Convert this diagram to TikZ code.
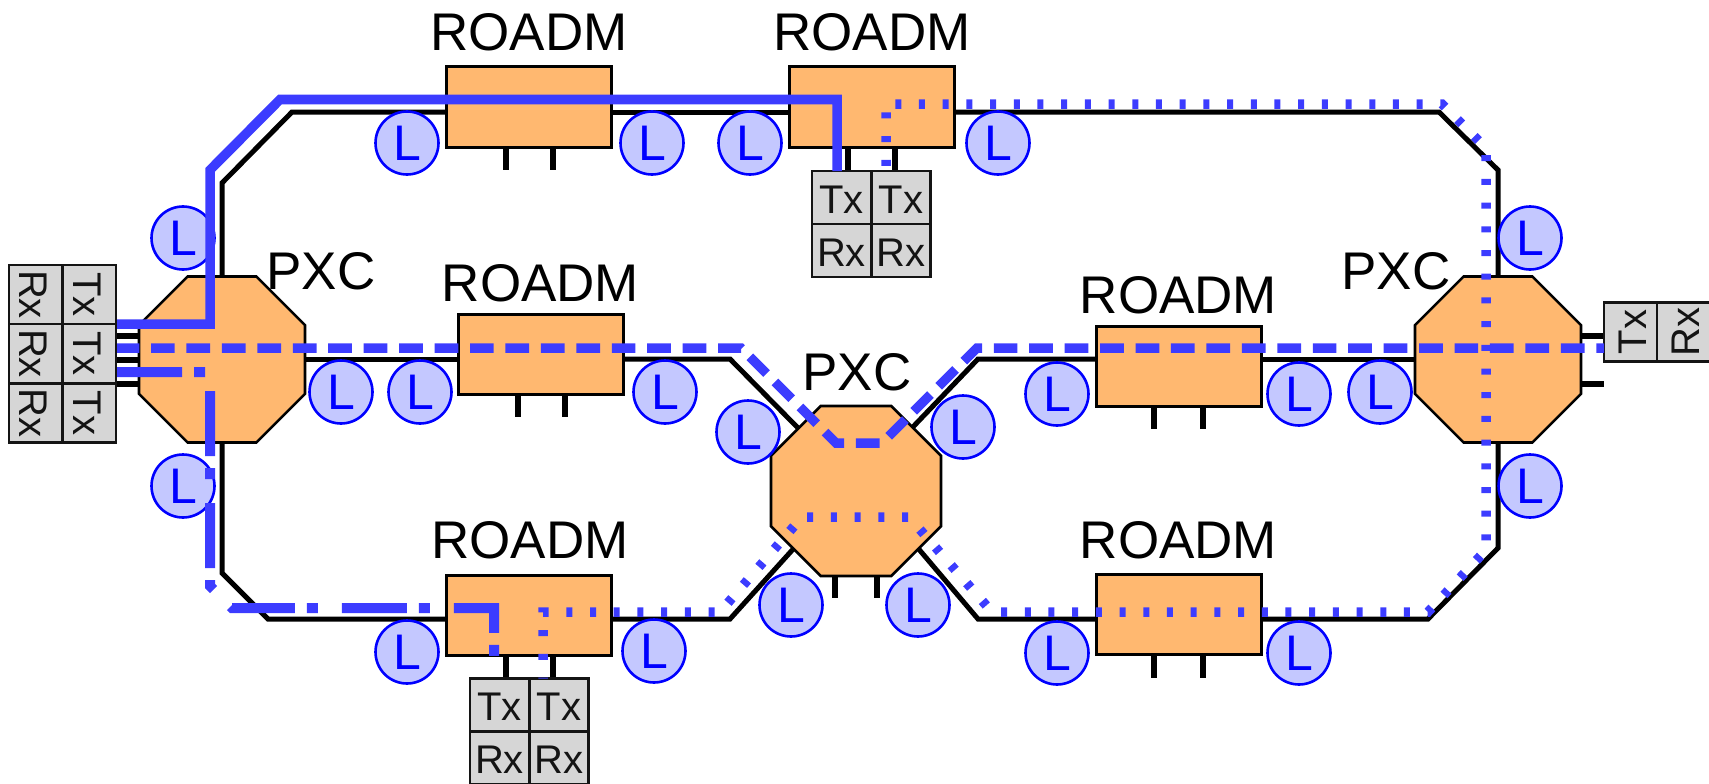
\documentclass[tikz,border=0pt]{standalone}
\usepackage{fontspec}
\setmainfont{Liberation Sans}
\usetikzlibrary{shapes.geometric,backgrounds}
\definecolor{orangefill}{HTML}{FFB870}
\definecolor{bluepath}{HTML}{3C3CFF}
\definecolor{lampfill}{HTML}{C4C8FF}
\definecolor{cellfill}{HTML}{D6D6D6}
\definecolor{cellline}{HTML}{141414}
\newcommand{\celltext}[1]{\raisebox{-2pt}[\height][0pt]{#1}}
\tikzset{
  roadm/.style={draw=black,line width=3pt,fill=orangefill,minimum width=165pt,minimum height=80pt,inner sep=0pt,outer sep=0pt},
  pxc/.style={draw=black,line width=2.6pt,fill=orangefill,regular polygon,regular polygon sides=8,minimum size=179.7pt,inner sep=0pt,outer sep=0pt},
  fiber/.style={draw=black,line width=5pt,line join=miter},
  stubline/.style={draw=black,line width=5.5pt},
  lamp/.style={circle,draw=blue,line width=2.6pt,fill=lampfill,minimum size=63pt,inner sep=0pt,text=blue,font=\fontsize{50}{50}\selectfont},
  cell/.style={draw=cellline,line width=2.8pt,fill=cellfill,inner sep=0pt,outer sep=0pt,text=cellline,font=\fontsize{40}{40}\selectfont},
  hcell/.style={cell,minimum width=59pt,minimum height=53pt},
  tall/.style={hcell,rotate=-90},
  tallr/.style={hcell,rotate=90},
  cellup/.style={cell,minimum width=59pt,minimum height=53pt},
  title/.style={anchor=base,text=black,font=\fontsize{53}{53}\selectfont,inner sep=0pt},
  bsolid/.style={draw=bluepath,line width=9.5pt,line join=miter},
  bdash/.style={draw=bluepath,line width=9.5pt,line join=miter,dash pattern=on 23.7pt off 11.74pt,dash phase=1.4pt},
  bdashdot/.style={draw=bluepath,line width=10pt,line join=miter,dash pattern=on 65pt off 12pt on 11pt off 24pt},
  bdot/.style={draw=bluepath,line width=9.5pt,line join=miter,dash pattern=on 6pt off 17.7pt,dash phase=5pt},
}
\begin{document}
\begin{tikzpicture}[x=1pt,y=-1pt]
\useasboundingbox (0,0) rectangle (1709,784);

% network elements
\node[pxc] (pxcL) at (222,359.5) {};
\node[pxc] (pxcR) at (1498,359.5) {};
\node[pxc,minimum size=184pt] (pxcM) at (856,491) {};
\node[roadm] (rdTL) at (529,107) {};
\node[roadm] (rdTR) at (872,107) {};
\node[roadm] (rdML) at (540.5,354) {};
\node[roadm] (rdMR) at (1178.5,366) {};
\node[roadm] (rdBL) at (529,615) {};
\node[roadm] (rdBR) at (1178.5,614) {};

% transceiver cells
\node[tall] (lR1) at (35.5,294.5) {\celltext{Rx}};
\node[tall] (lT1) at (89.5,294.5) {\celltext{Tx}};
\node[tall] (lR2) at (35.5,353.5) {\celltext{Rx}};
\node[tall] (lT2) at (89.5,353.5) {\celltext{Tx}};
\node[tall] (lR3) at (35.5,413) {\celltext{Rx}};
\node[tall] (lT3) at (89.5,413) {\celltext{Tx}};
\node[tallr] (rT) at (1630.5,332) {\celltext{Tx}};
\node[tallr] (rR) at (1683.5,332) {\celltext{Rx}};
\node[cellup] (tT1) at (841.5,197.5) {\celltext{Tx}};
\node[cellup] (tT2) at (901,197.5) {\celltext{Tx}};
\node[cellup] (tR1) at (841.5,250.5) {\celltext{Rx}};
\node[cellup] (tR2) at (901,250.5) {\celltext{Rx}};
\node[cellup] (bT1) at (499.5,705) {\celltext{Tx}};
\node[cellup] (bT2) at (559,705) {\celltext{Tx}};
\node[cellup] (bR1) at (499.5,758) {\celltext{Rx}};
\node[cellup] (bR2) at (559,758) {\celltext{Rx}};

% corners of the fibre runs
\coordinate (a1) at (222,183);
\coordinate (a2) at (292,112);
\coordinate (a3) at (1439,112);
\coordinate (a4) at (1498,170);
\coordinate (m1) at (730,359);
\coordinate (m2) at (800,430);
\coordinate (m3) at (910,430);
\coordinate (m4) at (978,359);
\coordinate (b1) at (222,573);
\coordinate (b2) at (268,619);
\coordinate (b3) at (730,619);
\coordinate (b4) at (795,547);
\coordinate (b5) at (917,547);
\coordinate (b6) at (978,619);
\coordinate (b7) at (1428,619);
\coordinate (b8) at (1498,548);

\begin{scope}[on background layer]
\draw[fiber] (pxcL.north) -- (a1) -- (a2) -- (a2 -| rdTL.west);
\draw[fiber] (a2 -| rdTL.east) -- (a2 -| rdTR.west);
\draw[fiber] (a2 -| rdTR.east) -- (a3) -- (a4) -- (pxcR.north);
\draw[fiber] (pxcL.east |- m1) -- (m1 -| rdML.west);
\draw[fiber] (m1 -| rdML.east) -- (m1) -- (m2);
\draw[fiber] (m3) -- (m4) -- (m4 -| rdMR.west);
\draw[fiber] (m4 -| rdMR.east) -- (m4 -| pxcR.west);
\draw[fiber] (pxcL.south) -- (b1) -- (b2) -- (b2 -| rdBL.west);
\draw[fiber] (b3 -| rdBL.east) -- (b3) -- (b4);
\draw[fiber] (b5) -- (b6) -- (b6 -| rdBR.west);
\draw[fiber] (b7 -| rdBR.east) -- (b7) -- (b8) -- (pxcR.south);
% stubs
\draw[stubline] (lT1.north |- 0,336) -- (pxcL.west |- 0,336);
\draw[stubline] (lT1.north |- 0,360) -- (pxcL.west |- 0,360);
\draw[stubline] (lT1.north |- 0,384) -- (pxcL.west |- 0,384);
\draw[stubline] (pxcR.east |- 0,336) -- (rT.north |- 0,336);
\draw[stubline] (pxcR.east |- 0,384) -- (rT.north |- 0,384);
\draw[stubline] (835,560) -- (835,598);
\draw[stubline] (877,560) -- (877,598);
\draw[stubline] (848,140) -- (848,0 |- tT1.north);
\draw[stubline] (895,140) -- (895,0 |- tT2.north);
\draw[stubline] (506,640) -- (506,0 |- bT1.north);
\draw[stubline] (553,640) -- (553,0 |- bT2.north);
\draw[stubline] (506,140) -- (506,170);
\draw[stubline] (553,140) -- (553,170);
\draw[stubline] (518,380) -- (518,417);
\draw[stubline] (565,380) -- (565,417);
\draw[stubline] (1154,390) -- (1154,429);
\draw[stubline] (1203,390) -- (1203,429);
\draw[stubline] (1154,640) -- (1154,678);
\draw[stubline] (1203,640) -- (1203,678);
\end{scope}

% amplifiers
\node[lamp] (l1) at (407,143) {L};
\node[lamp] (l2) at (652,143) {L};
\node[lamp] (l3) at (750,143) {L};
\node[lamp] (l4) at (998,143) {L};
\node[lamp] (l5) at (183,238) {L};
\node[lamp] (l6) at (183,486) {L};
\node[lamp] (l7) at (341,392) {L};
\node[lamp] (l8) at (420,392) {L};
\node[lamp] (l9) at (665,392) {L};
\node[lamp] (l10) at (748,432) {L};
\node[lamp] (l11) at (963,427) {L};
\node[lamp] (l12) at (791,605) {L};
\node[lamp] (l13) at (918,605) {L};
\node[lamp] (l14) at (1057,394) {L};
\node[lamp] (l15) at (1299,394) {L};
\node[lamp] (l16) at (1380,392) {L};
\node[lamp] (l17) at (1530,238) {L};
\node[lamp] (l18) at (1530,486) {L};
\node[lamp] (l19) at (407,652) {L};
\node[lamp] (l20) at (654,651) {L};
\node[lamp] (l21) at (1057,653) {L};
\node[lamp] (l22) at (1299,653) {L};

% titles
\node[title] (t1) at (529,51) {ROADM};
\node[title] (t2) at (872,51) {ROADM};
\node[title] (t3) at (540.5,301) {ROADM};
\node[title] (t4) at (1178.5,313) {ROADM};
\node[title] (t5) at (530,558) {ROADM};
\node[title] (t6) at (1178.5,558) {ROADM};
\node[title] (t7) at (321,289) {PXC};
\node[title] (t8) at (1396,289) {PXC};
\node[title] (t9) at (857,390) {PXC};

% light paths
\coordinate (s1) at (117,324);
\coordinate (s2) at (210,324);
\coordinate (s3) at (210,170);
\coordinate (s4) at (280,99.5);
\coordinate (s5) at (837,99.5);
\draw[bsolid] (s1) -- (s2) -- (s3) -- (s4) -- (s5) -- (s5 |- tT1.north);

\coordinate (d1) at (117,348);
\coordinate (d2) at (741,348);
\coordinate (d3) at (836,443);
\coordinate (d4) at (882,443);
\coordinate (d5) at (977,348);
\coordinate (d6) at (1604,348);
\draw[bdash] (d1) -- (d2) -- (d3) -- (d4) -- (d5) -- (d6);

\coordinate (e1) at (117,372);
\coordinate (e2) at (210,372);
\coordinate (e3) at (210,586);
\coordinate (e4) at (232,608);
\coordinate (e5) at (494,608);
\draw[bdashdot] (e1) -- (e2) -- (e3) -- (e4) -- (e5) -- (e5 |- bT1.north);

\coordinate (f1) at (543,612);
\coordinate (f2) at (720,612);
\coordinate (f3) at (802,517);
\coordinate (f4) at (909,517);
\coordinate (f5) at (992,612);
\coordinate (f6) at (1428,612);
\coordinate (f7) at (1486,550);
\coordinate (f8) at (1486,148);
\coordinate (f9) at (1442,104);
\coordinate (f10) at (886,104);
\draw[bdot] (f1 |- bT2.north) -- (f1) -- (f2) -- (f3) -- (f4) -- (f5) -- (f6) -- (f7) -- (f8) -- (f9) -- (f10) -- (f10 |- tT2.north);
\end{tikzpicture}
\end{document}
